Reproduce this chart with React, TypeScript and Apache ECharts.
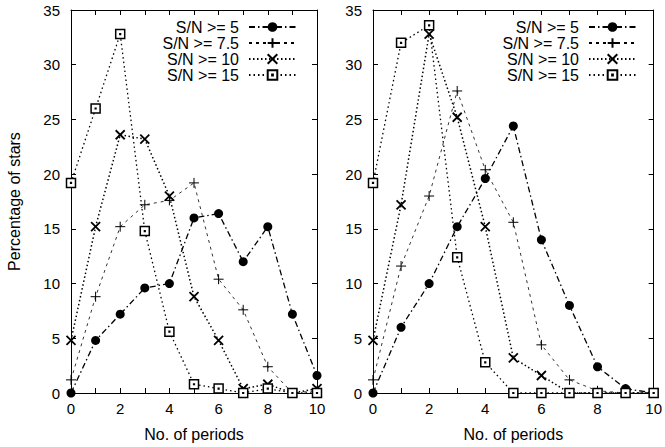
import React, { useEffect, useRef } from "react";
import * as echarts from "echarts";

const periods = [0, 1, 2, 3, 4, 5, 6, 7, 8, 9, 10];
const seriesNames = ["S/N >= 5", "S/N >= 7.5", "S/N >= 10", "S/N >= 15"];

const leftSN5 = [0, 4.8, 7.2, 9.6, 10.0, 16.0, 16.4, 12.0, 15.2, 7.2, 1.6];
const leftSN75 = [1.2, 8.8, 15.2, 17.2, 17.6, 19.2, 10.4, 7.6, 2.4, 0, 0.2];
const leftSN10 = [4.8, 15.2, 23.6, 23.2, 18.0, 8.8, 4.8, 0.4, 0.8, 0, 0.4];
const leftSN15 = [19.2, 26.0, 32.8, 14.8, 5.6, 0.8, 0.4, 0, 0.4, 0, 0];

const rightSN5 = [0, 6.0, 10.0, 15.2, 19.6, 24.4, 14.0, 8.0, 2.4, 0.4, 0];
const rightSN75 = [1.2, 11.6, 18.0, 27.6, 20.4, 15.6, 4.4, 1.2, 0.2, 0, 0];
const rightSN10 = [4.8, 17.2, 32.8, 25.2, 15.2, 3.2, 1.6, 0, 0, 0, 0];
const rightSN15 = [19.2, 32.0, 33.6, 12.4, 2.8, 0, 0, 0, 0, 0, 0];

const FONT = "'Liberation Sans', Arial, Helvetica, sans-serif";
const FS_TICK = 15;
const FS_TEXT = 16;

const styles = [
  {
    symbol: "circle",
    symbolSize: 9,
    itemStyle: { color: "#000" },
    lineStyle: { color: "#000", width: 1.3, type: [6, 3, 1.5, 3] },
  },
  {
    symbol: "path://M5,0V10M0,5H10",
    symbolSize: 10,
    itemStyle: { color: "#fff", borderColor: "#000", borderWidth: 1 },
    lineStyle: { color: "#000", width: 0.8, type: [3, 4] },
  },
  {
    symbol: "path://M0,0L10,10M10,0L0,10",
    symbolSize: 9,
    itemStyle: { color: "#fff", borderColor: "#000", borderWidth: 1.8 },
    lineStyle: { color: "#000", width: 1.5, type: [1.5, 2.5] },
  },
  {
    symbol: "path://M0,0H10V10H0Z M4.6,4.6H5.4V5.4H4.6Z",
    symbolSize: 9,
    itemStyle: { color: "#fff", borderColor: "#000", borderWidth: 1.5 },
    lineStyle: { color: "#000", width: 1.3, type: [1.5, 3] },
  },
];

function makeSeries(values: number[][], axisIdx: number) {
  return values.map((vals, i) => ({
    type: "line",
    name: seriesNames[i],
    xAxisIndex: axisIdx,
    yAxisIndex: axisIdx,
    data: periods.map((p, j) => [p, vals[j]]),
    symbol: styles[i].symbol,
    symbolSize: styles[i].symbolSize,
    itemStyle: styles[i].itemStyle,
    lineStyle: styles[i].lineStyle,
    clip: false,
    silent: true,
    emphasis: { disabled: true },
  }));
}

function xAxes(gridIndex: number) {
  const common = {
    type: "value",
    gridIndex,
    min: 0,
    max: 10,
    interval: 1,
    axisLine: { show: true, onZero: false, lineStyle: { color: "#000", width: 1 } },
    axisTick: { show: true, inside: true, length: 5, lineStyle: { color: "#000", width: 1 } },
    splitLine: { show: false },
  };
  return [
    {
      ...common,
      position: "bottom",
      axisLabel: {
        color: "#000",
        fontSize: FS_TICK,
        fontFamily: FONT,
        margin: 8,
        formatter: (v: number) => (v % 2 === 0 ? String(v) : ""),
      },
      name: "No. of periods",
      nameLocation: "middle",
      nameGap: 33,
      nameTextStyle: { color: "#000", fontSize: FS_TEXT, fontFamily: FONT },
    },
    { ...common, position: "top", axisLabel: { show: false } },
  ];
}

function yAxes(gridIndex: number, withName: boolean) {
  const common = {
    type: "value",
    gridIndex,
    min: 0,
    max: 35,
    interval: 5,
    axisLine: { show: true, onZero: false, lineStyle: { color: "#000", width: 1 } },
    axisTick: { show: true, inside: true, length: 5, lineStyle: { color: "#000", width: 1 } },
    splitLine: { show: false },
  };
  return [
    {
      ...common,
      position: "left",
      axisLabel: { color: "#000", fontSize: FS_TICK, fontFamily: FONT, margin: 11 },
      ...(withName
        ? {
            name: "Percentage of stars",
            nameLocation: "middle",
            nameGap: 49,
            nameRotate: 90,
            nameTextStyle: { color: "#000", fontSize: FS_TEXT, fontFamily: FONT },
          }
        : {}),
    },
    { ...common, position: "right", axisLabel: { show: false } },
  ];
}

function legend(right: number) {
  return {
    data: seriesNames,
    orient: "vertical",
    right,
    top: 19,
    align: "right",
    itemWidth: 47,
    itemHeight: 12,
    itemGap: 0,
    selectedMode: false,
    padding: 0,
    textStyle: { color: "#000", fontSize: FS_TEXT, fontFamily: FONT, lineHeight: 16, padding: [0, 5, 0, 0] },
  };
}

export default function App() {
  const ref = useRef<HTMLDivElement>(null);
  useEffect(() => {
    if (!ref.current) return;
    const chart = echarts.init(ref.current, undefined, { renderer: "svg" });
    const xa = [...xAxes(0), ...xAxes(1)];
    const ya = [...yAxes(0, true), ...yAxes(1, false)];
    const left = makeSeries([leftSN5, leftSN75, leftSN10, leftSN15], 0);
    const right = makeSeries([rightSN5, rightSN75, rightSN10, rightSN15], 2);
    chart.setOption({
      animation: false,
      backgroundColor: "#fff",
      textStyle: { fontFamily: FONT },
      grid: [
        { left: 71, top: 10, width: 246, height: 383 },
        { left: 373, top: 10, width: 284, height: 383 },
      ],
      xAxis: xa,
      yAxis: ya,
      legend: [legend(368), legend(28)],
      series: [...left, ...right],
    });
    return () => chart.dispose();
  }, []);
  return (
    <div
      ref={ref}
      style={{ position: "fixed", left: 0, top: 0, width: 665, height: 447 }}
    />
  );
}
